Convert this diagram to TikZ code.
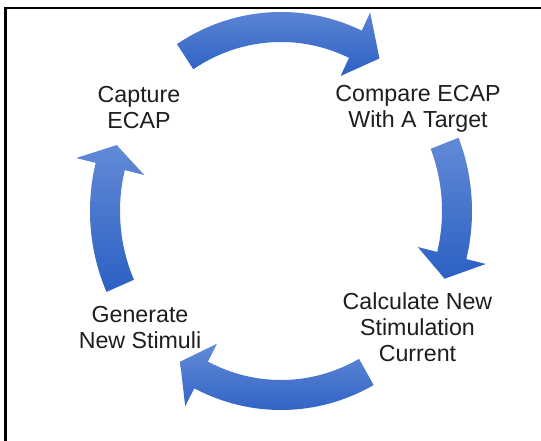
\documentclass[tikz,border=0pt]{standalone}
\usepackage{fontspec}
\setmainfont{Liberation Sans}
\usepackage{tikz}

\definecolor{arrowlight}{RGB}{98,138,214}
\definecolor{arrowdark}{RGB}{44,96,196}
\definecolor{labeltext}{RGB}{30,30,30}

\tikzset{
  steplabel/.style={align=center, text=labeltext, font=\fontsize{23.2}{26}\selectfont, inner sep=0pt},
  arrowfill/.style={top color=arrowlight, bottom color=arrowdark, draw=none}
}

% curved block arrow on the ring: tail angle, head base angle, tip angle
\newcommand{\ringarrow}[3]{%
  \shade[arrowfill] (#1:191pt and 199pt)
    arc[start angle=#1, end angle=#2, x radius=191pt, y radius=199pt]
    -- (#2:211pt and 219pt) -- (#3:176pt and 184pt) -- (#2:141pt and 149pt)
    -- (#2:161pt and 169pt)
    arc[start angle=#2, end angle=#1, x radius=161pt, y radius=169pt]
    -- cycle;
}

\begin{document}
\begin{tikzpicture}[x=1pt, y=1pt]
  \useasboundingbox (0,0) rectangle (541,441);
  \fill[white] (0,0) rectangle (541,441);
  \draw[line width=2.7pt] (5.3,0) -- (5.3,433) -- (541,433);

  \begin{scope}[shift={(281,230)}]
    \ringarrow{123}{65}{56}
    \ringarrow{21.6}{-14}{-21.6}
    \ringarrow{-61}{-117}{-125}
    \ringarrow{204}{166}{159}
  \end{scope}

  \node[steplabel] (capture) at (139,333) {Capture\\ECAP};
  \node[steplabel] (compare) at (418,332) {Compare ECAP\\With A Target};
  \node[steplabel] (calculate) at (417.5,114) {Calculate New\\Stimulation\\Current};
  \node[steplabel] (generate) at (140,113) {Generate\\New Stimuli};
\end{tikzpicture}
\end{document}
